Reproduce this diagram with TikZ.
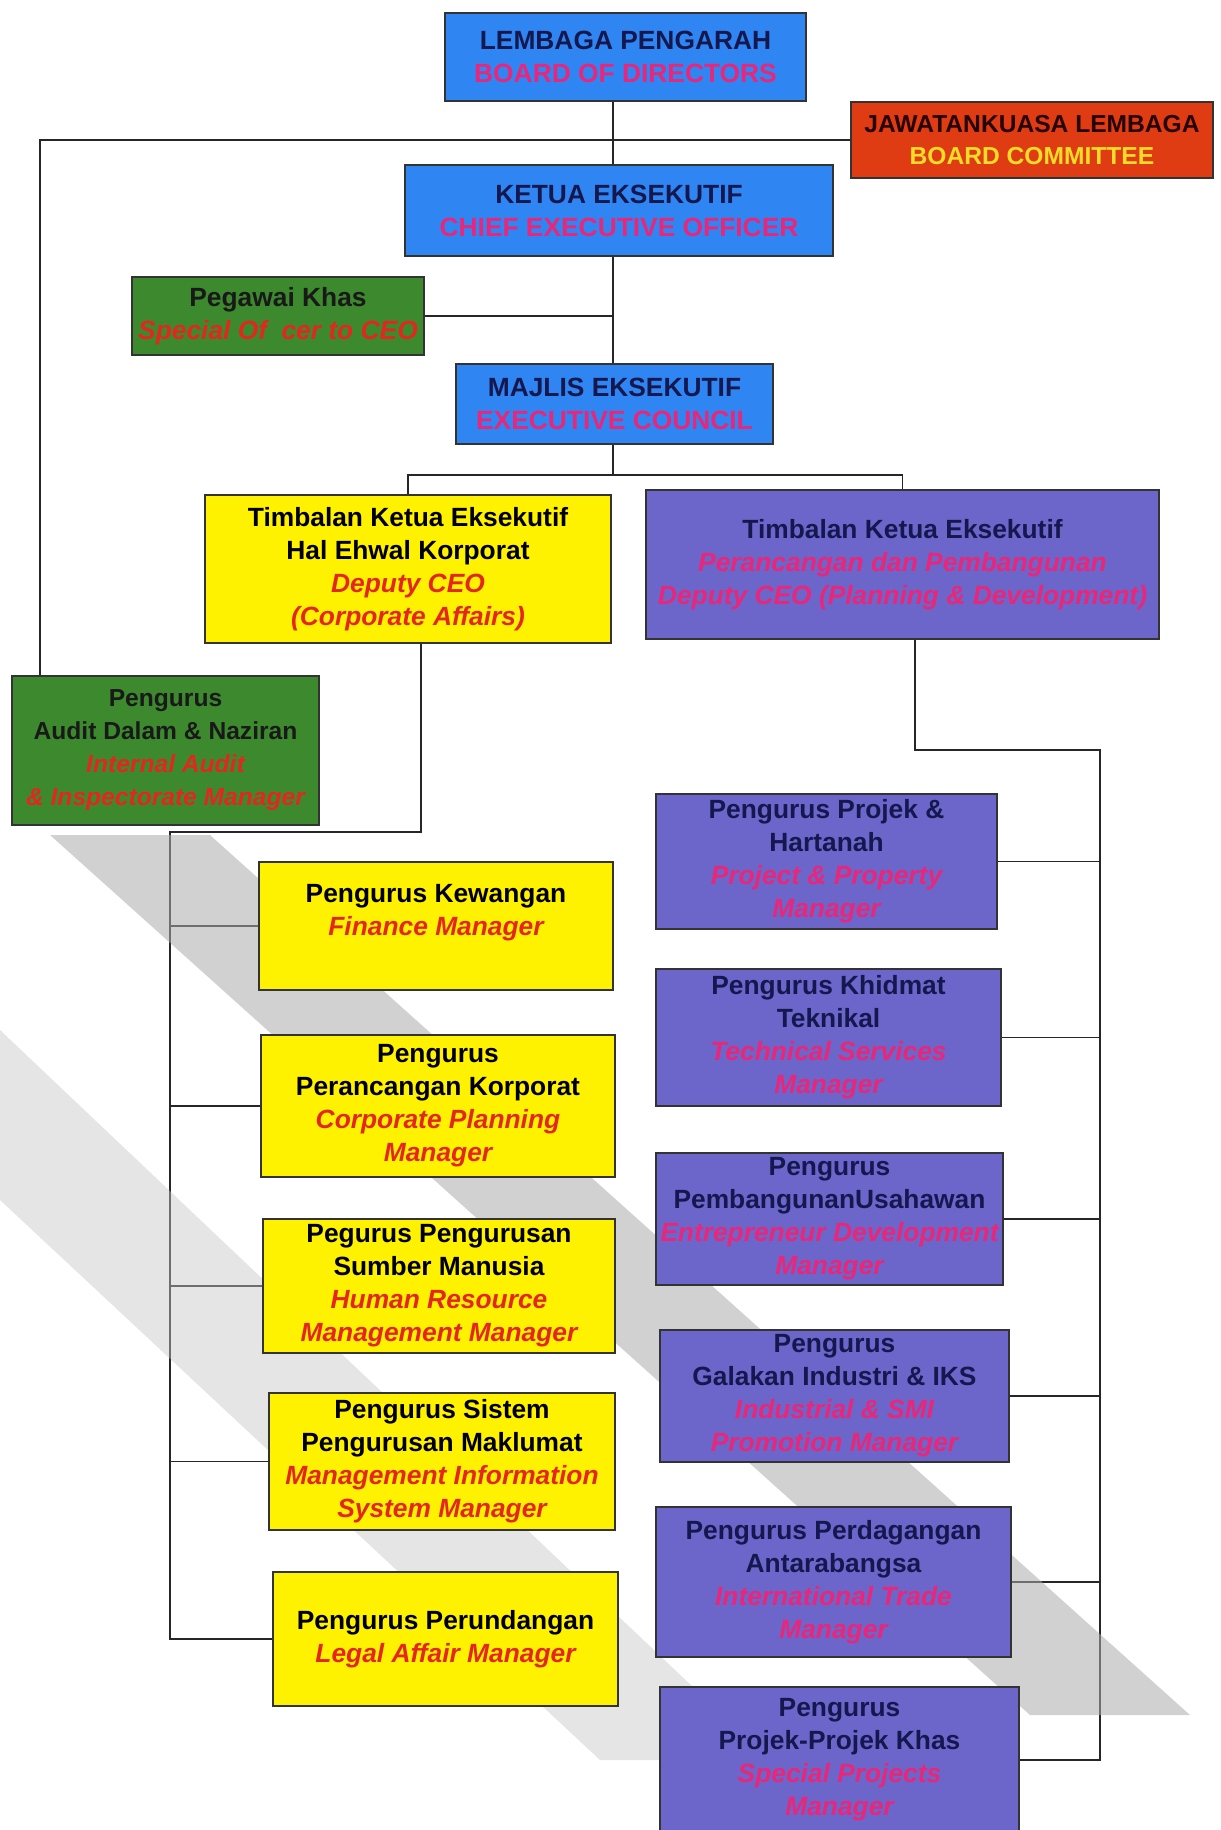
\documentclass[tikz,border=0pt]{standalone}
\usepackage{fontspec}
\setmainfont{Liberation Sans}
\usetikzlibrary{positioning,backgrounds}
\definecolor{BoxBlue}{HTML}{2F86F2}
\definecolor{BoxRed}{HTML}{E03C14}
\definecolor{BoxGreen}{HTML}{3D8A2E}
\definecolor{BoxYellow}{HTML}{FFF200}
\definecolor{BoxPurple}{HTML}{6C66CA}
\definecolor{NavyText}{HTML}{15174F}
\definecolor{LabelRed}{HTML}{E3261E}
\definecolor{LabelPink}{HTML}{E8267A}
\definecolor{LabelGold}{HTML}{F5DC28}
\newcommand{\en}[1]{{\color{LabelRed}\itshape #1}}
\newcommand{\enp}[1]{{\color{LabelPink}\itshape #1}}

\tikzset{
  box/.style={draw=black!80, line width=0.9pt, align=center, inner sep=1pt,
              font=\fontsize{15}{18.8}\selectfont\bfseries},
  bluebox/.style={box, fill=BoxBlue, text=NavyText},
  redbox/.style={box, fill=BoxRed, text=black!85!red},
  greenbox/.style={box, fill=BoxGreen, text=black!90},
  yellowbox/.style={box, fill=BoxYellow, text=black},
  purplebox/.style={box, fill=BoxPurple, text=NavyText},
  link/.style={draw=black!85, line width=1.1pt},
  mainlink/.style={draw=black!85, line width=1.6pt}
}

\begin{document}
\begin{tikzpicture}[x=0.02cm, y=-0.02cm]
  \useasboundingbox (0,0) rectangle (1221,1830);

  % faded logo in the background
  \fill[gray!65, opacity=0.55] (50,835) -- (210,835) -- (1190,1715) -- (1030,1715) -- cycle;
  \fill[gray!45, opacity=0.45] (0,1030) -- (0,1200) -- (600,1760) -- (770,1760) -- cycle;

  % top of the chart
  \node[bluebox, minimum width=7.22cm, minimum height=1.76cm] (bod) at (625.5,57)
    {LEMBAGA PENGARAH\\\textcolor{LabelPink}{BOARD OF DIRECTORS}};
  \node[redbox, minimum width=7.24cm, minimum height=1.52cm,
        font=\fontsize{14}{18}\selectfont\bfseries] (bc) at (1032,140)
    {JAWATANKUASA LEMBAGA\\\textcolor{LabelGold}{BOARD COMMITTEE}};
  \node[bluebox, minimum width=8.56cm, minimum height=1.82cm] (ceo) at (619,210.5)
    {KETUA EKSEKUTIF\\\textcolor{LabelPink}{CHIEF EXECUTIVE OFFICER}};
  \node[greenbox, minimum width=5.84cm, minimum height=1.56cm] (khas) at (278,316)
    {Pegawai Khas\\\en{Special Of\hspace{0.55em}cer to CEO}};
  \node[bluebox, minimum width=6.34cm, minimum height=1.6cm] (mec) at (614.5,404)
    {MAJLIS EKSEKUTIF\\\textcolor{LabelPink}{EXECUTIVE COUNCIL}};

  % deputies
  \node[yellowbox, minimum width=8.12cm, minimum height=2.96cm] (dca) at (408,569)
    {Timbalan Ketua Eksekutif\\Hal Ehwal Korporat\\\en{Deputy CEO}\\\en{(Corporate Affairs)}};
  \node[purplebox, minimum width=10.26cm, minimum height=2.98cm] (dpd) at (902.5,564.5)
    {Timbalan Ketua Eksekutif\\\enp{Perancangan dan Pembangunan}\\\enp{Deputy CEO (Planning \& Development)}};
  \node[greenbox, minimum width=6.14cm, minimum height=2.98cm,
        font=\fontsize{14}{18.8}\selectfont\bfseries] (audit) at (165.5,750.5)
    {Pengurus\\Audit Dalam \& Naziran\\\en{Internal Audit}\\\en{\& Inspectorate Manager}};

  % corporate affairs managers
  \node[yellowbox, minimum width=7.08cm, minimum height=2.56cm] (fin) at (436,926)
    {Pengurus Kewangan\\\en{Finance Manager}\\\mbox{}};
  \node[yellowbox, minimum width=7.08cm, minimum height=2.84cm] (cpm) at (438,1106)
    {Pengurus\\Perancangan Korporat\\\en{Corporate Planning}\\\en{Manager}};
  \node[yellowbox, minimum width=7.04cm, minimum height=2.68cm] (hrm) at (439,1286)
    {Pegurus Pengurusan\\Sumber Manusia\\\en{Human Resource}\\\en{Management Manager}};
  \node[yellowbox, minimum width=6.92cm, minimum height=2.74cm] (mis) at (442,1461.5)
    {Pengurus Sistem\\Pengurusan Maklumat\\\en{Management Information}\\\en{System Manager}};
  \node[yellowbox, minimum width=6.9cm, minimum height=2.68cm] (legal) at (445.5,1639)
    {Pengurus Perundangan\\\en{Legal Affair Manager}};

  % planning and development managers
  \node[purplebox, minimum width=6.82cm, minimum height=2.7cm] (ppm) at (826.5,861.5)
    {Pengurus Projek \&\\Hartanah\\\enp{Project \& Property}\\\enp{Manager}};
  \node[purplebox, minimum width=6.9cm, minimum height=2.74cm] (tsm) at (828.5,1037.5)
    {Pengurus Khidmat\\Teknikal\\\enp{Technical Services}\\\enp{Manager}};
  \node[purplebox, minimum width=6.94cm, minimum height=2.64cm] (edm) at (829.5,1219)
    {Pengurus\\PembangunanUsahawan\\\enp{Entrepreneur Development}\\\enp{Manager}};
  \node[purplebox, minimum width=6.98cm, minimum height=2.64cm] (ism) at (834.5,1396)
    {Pengurus\\Galakan Industri \& IKS\\\enp{Industrial \& SMI}\\\enp{Promotion Manager}};
  \node[purplebox, minimum width=7.1cm, minimum height=3.0cm] (itm) at (833.5,1582)
    {Pengurus Perdagangan\\Antarabangsa\\\enp{International Trade}\\\enp{Manager}};
  \node[purplebox, minimum width=7.18cm, minimum height=2.92cm] (spm) at (839.5,1760)
    {Pengurus\\Projek-Projek Khas\\\enp{Special Projects}\\\enp{Manager}};

  % connectors
  \coordinate (trunk) at (613,0);
  \coordinate (br) at (613,475);
  \coordinate (lt) at (40,0);
  \coordinate (lbus) at (170,832);
  \coordinate (rbus) at (1100,750);

  \begin{scope}[on background layer]
    \draw[link] (bod.south -| trunk) -- (ceo.north -| trunk);
    \draw[link] (ceo.south -| trunk) -- (mec.north -| trunk);
    \draw[link] (khas.east) -- (khas.east -| trunk);
    \draw[mainlink] (bc.west) -| (audit.north -| lt);
    \draw[link] (mec.south -| trunk) -- (br);
    \draw[link] (dca.north) |- (br) -| (dpd.north);
    \draw[link] ([xshift=0.26cm]dca.south) |- (lbus) |- (legal.west);
    \foreach \n in {fin,cpm,hrm,mis}
      \draw[link] (\n.west) -- (\n.west -| lbus);
    \draw[link] ([xshift=0.25cm]dpd.south) |- (rbus) |- (spm.east);
    \foreach \n in {ppm,tsm,edm,ism,itm}
      \draw[link] (\n.east) -- (\n.east -| rbus);
  \end{scope}
\end{tikzpicture}
\end{document}
